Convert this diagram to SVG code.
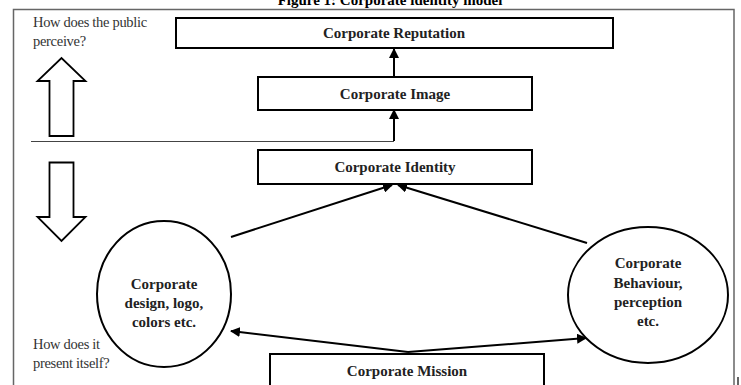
<svg xmlns="http://www.w3.org/2000/svg" width="741" height="385" viewBox="0 0 741 385">
<style>
.box{fill:#fff;stroke:#000;stroke-width:2}
.lbl{font-family:"Liberation Serif",serif;font-weight:bold;font-size:15px;fill:#222;text-anchor:middle}
.side{font-family:"Liberation Serif",serif;font-size:14.5px;fill:#333;letter-spacing:-0.3px}
.con{stroke:#000;stroke-width:2;fill:none}
.hollow{fill:#fff;stroke:#000;stroke-width:1.8}
</style>
<defs>
<marker id="ah" viewBox="0 0 10 10" refX="9" refY="5" markerWidth="5" markerHeight="5" orient="auto" markerUnits="strokeWidth">
<path d="M0,0 L10,5 L0,10 z" fill="#000"/>
</marker>
</defs>
<rect width="741" height="385" fill="#fff"/>
<text x="390" y="5" font-family="Liberation Serif,serif" font-weight="bold" font-size="15" text-anchor="middle" fill="#000">Figure 1: Corporate identity model</text>
<path d="M13.5,395 V9.5 H734 V395" fill="none" stroke="#666" stroke-width="1.5"/>
<line x1="738" y1="377" x2="738" y2="385" stroke="#000" stroke-width="1.2"/>
<g id="side-top">
<text class="side" x="33" y="27">How does the public</text>
<text class="side" x="33" y="46">perceive?</text>
</g>
<g id="up-arrow"><path class="hollow" d="M49.5,136 V81 H37.5 L61.5,58 L85.5,81 H73.5 V136 z"/></g>
<line x1="31" y1="141.5" x2="394" y2="141.5" stroke="#444" stroke-width="1.2"/>
<g id="down-arrow"><path class="hollow" d="M49.5,162.5 V217 H37.5 L61.5,241 L85.5,217 H73.5 V162.5 z"/></g>
<g id="side-bottom">
<text class="side" x="33" y="349">How does it</text>
<text class="side" x="33" y="368">present itself?</text>
</g>
<g id="connectors">
<line class="con" x1="394" y1="77" x2="394" y2="49" marker-end="url(#ah)"/>
<line class="con" x1="394" y1="141" x2="394" y2="110" marker-end="url(#ah)"/>
<line class="con" x1="231" y1="237" x2="392" y2="185" marker-end="url(#ah)"/>
<line class="con" x1="587" y1="243" x2="398" y2="185" marker-end="url(#ah)"/>
<line class="con" x1="408" y1="352" x2="231" y2="331" marker-end="url(#ah)"/>
<line class="con" x1="408" y1="352" x2="586" y2="338" marker-end="url(#ah)"/>
</g>
<g id="reputation"><rect class="box" x="176" y="18" width="437" height="30"/><text class="lbl" x="394" y="38">Corporate  Reputation</text></g>
<g id="image"><rect class="box" x="258" y="77" width="274" height="33"/><text class="lbl" x="395" y="99">Corporate Image</text></g>
<g id="identity"><rect class="box" x="258" y="150" width="274" height="34"/><text class="lbl" x="395" y="172">Corporate Identity</text></g>
<g id="design"><ellipse class="box" cx="164" cy="294" rx="67" ry="73"/>
<text class="lbl" x="164" y="289">Corporate</text>
<text class="lbl" x="164" y="308">design, logo,</text>
<text class="lbl" x="164" y="327">colors etc.</text></g>
<g id="behaviour"><ellipse class="box" cx="648" cy="295" rx="80" ry="68"/>
<text class="lbl" x="648" y="268">Corporate</text>
<text class="lbl" x="648" y="288">Behaviour,</text>
<text class="lbl" x="648" y="307">perception</text>
<text class="lbl" x="648" y="326">etc.</text></g>
<g id="mission"><rect class="box" x="270" y="354" width="274" height="36"/><text class="lbl" x="407" y="376">Corporate Mission</text></g>
</svg>
